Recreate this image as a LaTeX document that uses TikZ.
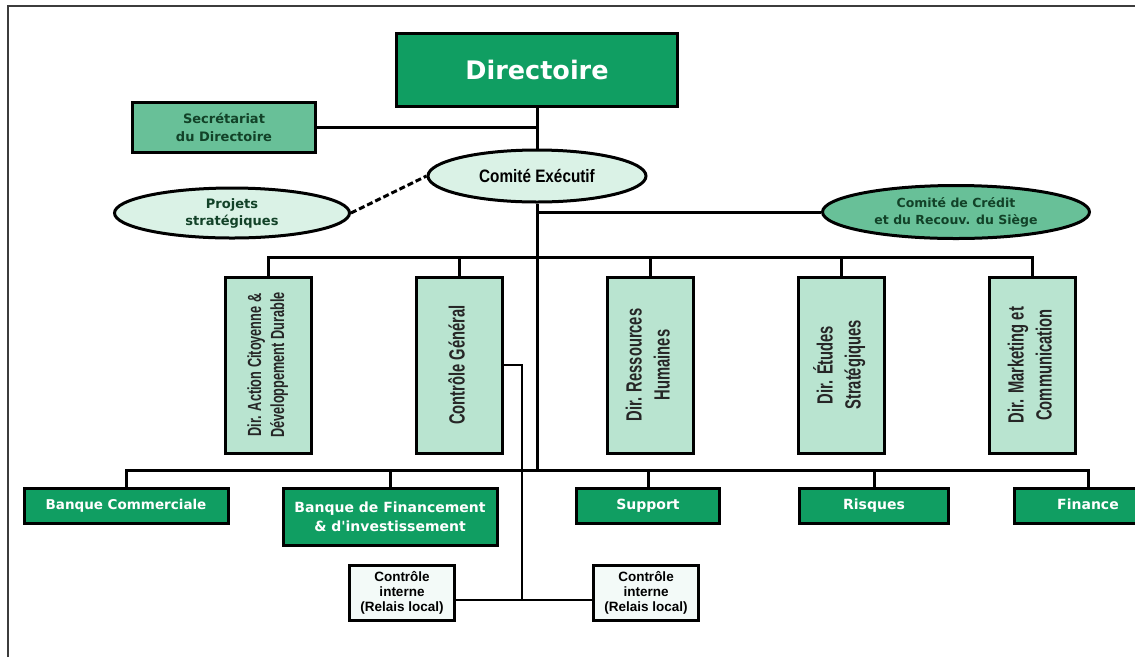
\documentclass[tikz,border=0pt]{standalone}
\usepackage{fontspec}
\usepackage{graphicx}
\usetikzlibrary{shapes.geometric}
\newfontfamily\verdf{DejaVu Sans}
\newfontfamily\arialf{Liberation Sans}
\newfontfamily\narrowf[FakeStretch=0.67]{Liberation Sans}
\newfontfamily\semif[FakeStretch=0.85]{Liberation Sans}
\definecolor{dkgreen}{RGB}{16,158,98}
\definecolor{medgreen}{RGB}{104,192,152}
\definecolor{tallgreen}{RGB}{185,228,208}
\definecolor{palegreen}{RGB}{218,242,230}
\definecolor{cifill}{RGB}{243,250,248}
\definecolor{txtgreen}{RGB}{18,66,40}
\definecolor{framegray}{RGB}{60,60,60}
\newcommand{\vlabel}[1]{\rotatebox{90}{\begin{tabular}{@{}c@{}}#1\end{tabular}}}
\tikzset{
  box/.style={draw=black, line width=3pt, inner sep=0pt, align=center},
  headbox/.style={box, fill=dkgreen, text=white, font=\verdf\bfseries\fontsize{25.5}{30}\selectfont},
  secbox/.style={box, fill=medgreen, text=txtgreen, font=\verdf\bfseries\fontsize{13}{18}\selectfont},
  oval/.style={ellipse, draw=black, line width=3pt, inner sep=0pt, align=center},
  tallbox/.style={box, fill=tallgreen, text=black!85, minimum width=86pt, minimum height=176pt,
    font=\narrowf\bfseries\fontsize{22}{28}\selectfont},
  unitbox/.style={box, fill=dkgreen, text=white, minimum height=35pt,
    font=\verdf\bfseries\fontsize{14}{19}\selectfont},
  oneline/.style={text height=10.5pt, text depth=3.3pt},
  relaisbox/.style={box, line width=2.5pt, fill=cifill, minimum width=105pt, minimum height=55pt,
    font=\arialf\bfseries\fontsize{13.5}{15}\selectfont},
  link/.style={line width=3pt},
  thinlink/.style={line width=1.3pt}
}
\begin{document}
\begin{tikzpicture}[x=1pt, y=-1pt]
\useasboundingbox (0,0) rectangle (1135,657);
\draw[framegray, line width=2pt] (8,657) -- (8,6) -- (1135,6);

% top of the chart
\node[headbox, minimum width=281pt, minimum height=73pt] (dir) at (537,70) {Directoire};
\node[secbox, minimum width=183pt, minimum height=50pt] (sec) at (224,127) {Secrétariat\\du Directoire};
\node[oval, fill=palegreen, minimum width=218pt, minimum height=52pt,
      font=\semif\bfseries\fontsize{18}{20}\selectfont] (comex) at (537,176) {Comité Exécutif};
\node[oval, fill=palegreen, text=txtgreen, minimum width=235pt, minimum height=50pt,
      font=\verdf\bfseries\fontsize{13}{17}\selectfont] (proj) at (232,213) {Projets\\stratégiques};
\node[oval, fill=medgreen, text=txtgreen, minimum width=267pt, minimum height=53pt,
      font=\verdf\bfseries\fontsize{12.5}{17}\selectfont] (credit) at (956,212) {Comité de Crédit\\et du Recouv. du Siège};

% directions
\node[tallbox, font=\narrowf\bfseries\fontsize{19}{23}\selectfont] (dacd) at (268,365)
  {\vlabel{Dir. Action Citoyenne \&\\Développement Durable}};
\node[tallbox] (cg)  at (459,365) {\vlabel{Contrôle Général}};
\node[tallbox] (drh) at (650,365) {\vlabel{Dir. Ressources\\Humaines}};
\node[tallbox] (des) at (841,365) {\vlabel{Dir. Études\\Stratégiques}};
\node[tallbox] (dmc) at (1032,365) {\vlabel{Dir. Marketing et\\Communication}};

% business units
\node[unitbox, oneline, minimum width=204pt, font=\verdf\bfseries\fontsize{13.5}{19}\selectfont] (bc) at (126,506) {Banque Commerciale};
\node[unitbox, minimum width=214pt, minimum height=57pt] (bfi) at (390,517) {Banque de Financement\\\& d'investissement};
\node[unitbox, oneline, minimum width=143pt] (sup) at (648,506) {Support};
\node[unitbox, oneline, minimum width=149pt] (ris) at (874,506) {Risques};
\node[unitbox, oneline, minimum width=148pt] (fin) at (1088,506) {Finance};

% relais locaux
\node[relaisbox] (ci1) at (402,593) {Contrôle\\interne\\(Relais local)};
\node[relaisbox] (ci2) at (646,593) {Contrôle\\interne\\(Relais local)};

\coordinate (hub1) at (537,257);
\coordinate (hub2) at (537,470);
\coordinate (cij)  at (522,600);

\draw[link] (sec.east) -- (sec.east -| dir.south);
\draw[link] (dir) -- (comex);
\draw[link, dash pattern=on 6pt off 3pt] (proj.east) -- (comex.west);
\draw[link] (comex.south) -- (hub2);
\draw[link] (credit.west) -- (credit.west -| comex.south);
\foreach \n in {dacd,cg,drh,des,dmc}
{
  \draw[link] (\n.north) |- (hub1);
}
\foreach \n in {bc,bfi,sup,ris,fin}
{
  \draw[link] (\n.north) |- (hub2);
}
\draw[thinlink] (cg.east) -| (cij);
\draw[thinlink] (ci1.east |- cij) -- (ci2.west |- cij);
\end{tikzpicture}
\end{document}
